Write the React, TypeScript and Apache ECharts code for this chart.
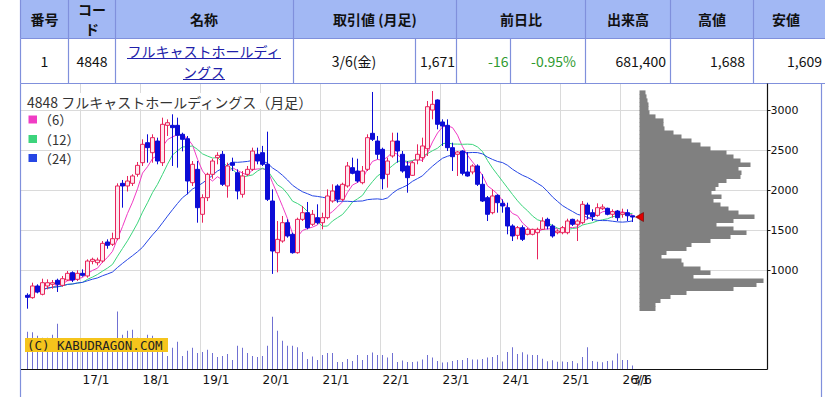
import React, { useEffect, useRef } from "react";
import * as echarts from "echarts";

// ---------- data ----------
const START_YEAR = 2016;
const START_MONTH = 2;
const LAST_LABEL = "3/6";

const openPrice = [
  692, 663, 809, 705, 809, 830, 880, 817, 884, 975, 892, 967, 934, 1117, 1100, 1121, 1359, 1330, 1400, 2092,
  2059, 2092, 2205, 2350, 2600, 2475, 2621, 2350, 2817, 2817, 2817, 2705, 2650, 2100, 2267, 1705, 1913, 2205, 2413, 2455,
  2059, 2350, 2225, 1955, 2205, 2267, 2455, 2475, 2330, 1871, 1225, 1371, 1600, 1455, 1225, 1642, 1725, 1580, 1663, 1600,
  1663, 1871, 2059, 1892, 2059, 2288, 2246, 2100, 2267, 2717, 2621, 2517, 2205, 2434, 2621, 2455, 2309, 2192, 2384, 2413,
  2525, 3008, 3134, 2859, 2817, 2538, 2455, 2496, 2234, 2234, 2309, 2080, 1913, 1725, 1942, 1842, 1788, 1559, 1442, 1538,
  1455, 1455, 1475, 1517, 1642, 1559, 1475, 1475, 1475, 1642, 1580, 1600, 1821, 1725, 1692, 1775, 1780, 1705, 1746, 1705,
  1725, 1687,
];
const highPrice = [
  717, 850, 830, 900, 892, 884, 900, 934, 996, 992, 1005, 1017, 1142, 1163, 1163, 1371, 1392, 1475, 2092, 2134,
  2184, 2205, 2359, 2642, 2705, 2705, 2663, 2913, 2892, 2955, 2913, 2725, 2684, 2371, 2371, 1955, 2225, 2400, 2480, 2496,
  2350, 2413, 2267, 2246, 2309, 2538, 2538, 2560, 2738, 2017, 1621, 1684, 1642, 1475, 1663, 1809, 1859, 1759, 1830, 1725,
  2017, 2080, 2080, 2100, 2359, 2413, 2400, 2309, 2705, 3234, 2684, 2538, 2413, 2725, 2725, 2496, 2371, 2371, 2580, 2663,
  3121, 3246, 3142, 2892, 2892, 2600, 2496, 2505, 2484, 2330, 2330, 2205, 1934, 2017, 1955, 1892, 1850, 1580, 1559, 1567,
  1538, 1525, 1538, 1667, 1663, 1580, 1517, 1559, 1650, 1650, 1642, 1871, 1850, 1767, 1842, 1830, 1788, 1767, 1759, 1775,
  1767, 1688,
];
const lowPrice = [
  525, 650, 717, 692, 767, 775, 734, 800, 871, 858, 871, 925, 913, 1080, 1067, 1100, 1275, 1309, 1380, 1788,
  1990, 2059, 2175, 2309, 2350, 2350, 2330, 2309, 2684, 2309, 2288, 2492, 1955, 2059, 1600, 1600, 1870, 2150, 2330, 2059,
  1913, 2246, 1892, 1913, 2184, 2246, 2330, 2309, 1871, 960, 980, 1350, 1413, 1213, 1213, 1621, 1517, 1559, 1580, 1517,
  1642, 1850, 1850, 1871, 2038, 2205, 2100, 2080, 2246, 2621, 2392, 2017, 2038, 2413, 2350, 2225, 1975, 2184, 2330, 2359,
  2434, 2892, 2767, 2559, 2496, 2246, 2184, 2192, 2175, 2205, 2059, 1859, 1621, 1705, 1725, 1725, 1455, 1371, 1392, 1371,
  1442, 1442, 1142, 1509, 1517, 1413, 1455, 1455, 1455, 1559, 1371, 1580, 1642, 1621, 1675, 1759, 1692, 1663, 1621, 1663,
  1621, 1609,
];
const closePrice = [
  667, 809, 734, 850, 850, 850, 830, 900, 967, 884, 967, 942, 1121, 1142, 1133, 1342, 1317, 1400, 2059, 2059,
  2121, 2184, 2317, 2580, 2538, 2663, 2371, 2830, 2850, 2788, 2692, 2642, 2121, 2330, 1788, 1913, 2205, 2371, 2442, 2080,
  2309, 2317, 1996, 2184, 2267, 2496, 2371, 2330, 1892, 1246, 1392, 1600, 1434, 1225, 1642, 1725, 1538, 1705, 1600, 1663,
  1934, 1996, 1892, 2080, 2309, 2217, 2121, 2246, 2663, 2642, 2455, 2150, 2371, 2621, 2496, 2246, 2163, 2350, 2455, 2559,
  3050, 3080, 2830, 2809, 2538, 2425, 2484, 2217, 2184, 2309, 2080, 1871, 1705, 1934, 1850, 1809, 1559, 1434, 1538, 1392,
  1517, 1517, 1517, 1621, 1559, 1434, 1496, 1538, 1621, 1580, 1621, 1830, 1705, 1675, 1788, 1796, 1705, 1738, 1663, 1725,
  1687, 1671,
];
// monthly volume, thousand shares
const volumeK = [
  7400, 7300, 6600, 6200, 6200, 6800, 9000, 5600, 5400, 5200, 6000, 5600, 5000, 5400, 5800, 5200, 5400, 6000, 11400, 6800,
  7600, 7800, 6200, 6000, 6800, 6600, 6000, 5800, 2600, 4200, 5400, 2600, 3600, 4200, 3200, 3400, 3800, 3200, 2400, 2600,
  3000, 1800, 4600, 4200, 3200, 2600, 2400, 2600, 4600, 10400, 7600, 5600, 4600, 4600, 4300, 3400, 2000, 2500, 1800, 2800,
  3200, 3200, 1400, 1400, 2000, 1600, 2800, 1800, 2800, 3300, 2800, 2800, 2300, 3200, 1400, 1700, 1400, 1400, 1500, 1900,
  2800, 2300, 1600, 1300, 1360, 1600, 1800, 1800, 2200, 1900, 1900, 2000, 2300, 2400, 2800, 1500, 3400, 4300, 3000, 3340,
  2900, 2800, 2800, 2040, 1560, 1720, 1440, 1500, 1400, 1600, 1140, 2400, 4300, 1600, 1460, 1360, 1600, 1700, 3100, 1800,
  1800, 681,
];
// price-by-volume profile (bucket lower bound, 50 yen buckets)
const profileLevel = [
  500, 550, 600, 650, 700, 750, 800, 850, 900, 950, 1000, 1050, 1100, 1150, 1200, 1250, 1300, 1350, 1400, 1450,
  1500, 1550, 1600, 1650, 1700, 1750, 1800, 1850, 1900, 1950, 2000, 2050, 2100, 2150, 2200, 2250, 2300, 2350, 2400, 2450,
  2500, 2550, 2600, 2650, 2700, 2750, 2800, 2850, 2900, 2950, 3000, 3050, 3100, 3150, 3200,
];
const profileVolume = [
  16, 16, 21, 31, 47, 94, 117, 124, 54, 71, 61, 44, 42, 22, 27, 47, 52, 71, 91, 107,
  94, 77, 94, 115, 99, 89, 81, 74, 82, 72, 76, 79, 87, 101, 102, 99, 111, 101, 94, 87,
  71, 61, 52, 42, 34, 25, 24, 24, 16, 10, 9, 9, 8, 7, 6,
];
const PROFILE_STEP = 50;
const priceTicks = [1000, 1500, 2000, 2500, 3000];
const maPeriods = [6, 12, 24];
const maColors = ["#f03cc4", "#3cd47c", "#2646e4"];

const tableHeaders = ["番号", "コード", "名称", "取引値 (月足)", "前日比", "出来高", "高値", "安値"];
const rowValues = ["1", "4848", "フルキャストホールディングス", "3/6(金)", "1,671", "-16", "-0.95%", "681,400", "1,688", "1,609"];
const chartTitle = "4848 フルキャストホールディングス（月足）";
const watermark = "(C) KABUDRAGON.COM";

// ---------- helpers ----------
const months: string[] = closePrice.map((_, i) => {
  const m0 = START_MONTH - 1 + i;
  const y = START_YEAR + Math.floor(m0 / 12);
  const m = (m0 % 12) + 1;
  return `${y}/${m < 10 ? "0" + m : m}`;
});
const lastIdx = months.length - 1;
const isJan = (i: number) => !!months[i] && months[i].endsWith("/01");

function sma(n: number) {
  return closePrice.map((_, i) => {
    const s = Math.max(0, i - n + 1);
    let sum = 0;
    for (let k = s; k <= i; k++) sum += closePrice[k];
    return Math.round((sum / (i - s + 1)) * 10) / 10;
  });
}

const BORDER = "#8090dc";
const JP = "Noto Sans CJK JP";

function tableGraphics(): any[] {
  const els: any[] = [];
  els.push({ type: "rect", z: 10, shape: { x: 20.5, y: 0, width: 805, height: 38 }, style: { fill: "#a2b8f4" } });
  const hx = [20.5, 68.5, 115.5, 293.5, 456.5, 585.5, 670.5, 753.5];
  hx.forEach((x) => els.push({ type: "line", z: 11, shape: { x1: x, y1: 0, x2: x, y2: 38.5 }, style: { stroke: BORDER, lineWidth: 1.2 } }));
  const rx = [20.5, 68.5, 115.5, 293.5, 415.5, 456.5, 510.5, 585.5, 670.5, 753.5];
  rx.forEach((x) => els.push({ type: "line", z: 11, shape: { x1: x, y1: 38.5, x2: x, y2: 83.5 }, style: { stroke: BORDER, lineWidth: 1.2 } }));
  [38.5, 83.5].forEach((y) => els.push({ type: "line", z: 11, shape: { x1: 20.5, y1: y, x2: 825, y2: y }, style: { stroke: BORDER, lineWidth: 1.2 } }));
  els.push({ type: "line", z: 11, shape: { x1: 20.5, y1: 83.5, x2: 20.5, y2: 397 }, style: { stroke: BORDER, lineWidth: 1.2 } });
  els.push({ type: "line", z: 11, shape: { x1: 821.5, y1: 83.5, x2: 821.5, y2: 397 }, style: { stroke: BORDER, lineWidth: 1.2 } });

  const hcx = [44.5, 92, 204, 375, 521, 628, 712, 786];
  tableHeaders.forEach((t, i) => {
    const st: any = { text: t, x: hcx[i], y: 18.5, fill: "#111", fontFamily: JP, fontWeight: "bold", fontSize: 14, align: "center", verticalAlign: "middle" };
    if (i === 1) { st.width = 30; st.overflow = "break"; st.lineHeight = 20; st.y = 18.5; }
    els.push({ type: "text", z: 12, style: st });
  });

  const cell = (t: string, x: number, align: string, fill = "#111") => ({
    type: "text", z: 12,
    style: { text: t, x, y: 61, fill, fontFamily: JP, fontSize: 14, align, verticalAlign: "middle" },
  });
  els.push(cell(rowValues[0], 44.5, "center"));
  els.push(cell(rowValues[1], 92, "center"));
  els.push({
    type: "text", z: 12,
    style: { text: rowValues[2], x: 204, y: 61, width: 160, overflow: "break", lineHeight: 21, fill: "#2020aa", fontFamily: JP, fontSize: 14, align: "center", verticalAlign: "middle" },
  });
  els.push({ type: "line", z: 12, shape: { x1: 127, y1: 58.5, x2: 281, y2: 58.5 }, style: { stroke: "#2020aa", lineWidth: 1 } });
  els.push({ type: "line", z: 12, shape: { x1: 183, y1: 79.5, x2: 225, y2: 79.5 }, style: { stroke: "#2020aa", lineWidth: 1 } });
  els.push(cell(rowValues[3], 354, "center"));
  els.push(cell(rowValues[4], 455, "right"));
  els.push(cell(rowValues[5], 508.5, "right", "#2f9a2f"));
  els.push(cell(rowValues[6], 576, "right", "#2f9a2f"));
  els.push(cell(rowValues[7], 666, "right"));
  els.push(cell(rowValues[8], 745, "right"));
  els.push(cell(rowValues[9], 822, "right"));
  return els;
}

function chartGraphics(): any[] {
  const els: any[] = [];
  // title with white backing
  els.push({ type: "rect", z: 10, shape: { x: 22, y: 93, width: 288, height: 16 }, style: { fill: "#fff" } });
  els.push({ type: "text", z: 12, style: { text: chartTitle, x: 27, y: 101.5, fill: "#333", fontFamily: JP, fontSize: 14, verticalAlign: "middle" } });
  // legend
  const ly = [119.5, 139, 158];
  maPeriods.forEach((p, i) => {
    els.push({ type: "rect", z: 12, shape: { x: 28.5, y: ly[i] - 4, width: 8.5, height: 8 }, style: { fill: maColors[i] } });
    els.push({ type: "text", z: 12, style: { text: `（${p}）`, x: 39, y: ly[i], fill: "#333", fontFamily: JP, fontSize: 13, verticalAlign: "middle" } });
  });
  // watermark
  els.push({ type: "rect", z: 12, shape: { x: 25, y: 338, width: 143, height: 14 }, style: { fill: "#f5c41c" } });
  els.push({ type: "text", z: 13, style: { text: watermark, x: 27, y: 345.5, fill: "#222", fontFamily: "DejaVu Sans Mono", fontSize: 12.5, verticalAlign: "middle" } });
  // axis frame
  els.push({ type: "line", z: 12, shape: { x1: 767.5, y1: 83.5, x2: 767.5, y2: 369.5 }, style: { stroke: "#111", lineWidth: 1.2 } });
  els.push({ type: "line", z: 12, shape: { x1: 21, y1: 369.5, x2: 767.5, y2: 369.5 }, style: { stroke: "#111", lineWidth: 1.2 } });
  return els;
}

export default function App() {
  const ref = useRef<HTMLDivElement>(null);
  useEffect(() => {
    if (!ref.current) return;
    const chart = echarts.init(ref.current, undefined, { renderer: "svg" });
    const candleData = closePrice.map((c, i) => [openPrice[i], c, lowPrice[i], highPrice[i]]);
    const profileData = profileLevel.map((lv, i) => [lv, lv + PROFILE_STEP, profileVolume[i]]);
    const gridLine = { color: "#dadada", width: 1 };
    const xLabelStyle = { align: "left", margin: 5, fontSize: 12, color: "#111", fontFamily: "DejaVu Sans" };

    const option: any = {
      animation: false,
      backgroundColor: "#ffffff",
      textStyle: { fontFamily: "DejaVu Sans" },
      grid: [
        { left: 21, top: 86.7, width: 746.5, height: 224 },
        { left: 25, top: 84, width: 610, height: 285 },
        { left: 25, top: 86.7, width: 610, height: 224 },
        { left: 639.5, top: 86.7, width: 127.5, height: 224 },
      ],
      xAxis: [
        { gridIndex: 0, type: "value", min: 0, max: 1, show: false },
        {
          gridIndex: 1, type: "category", data: months, boundaryGap: true, position: "bottom",
          axisLine: { show: false }, axisTick: { show: false },
          axisLabel: {
            ...xLabelStyle,
            interval: (i: number) => isJan(i),
            formatter: (v: string) => `${v.slice(2, 4)}/1`,
          },
          splitLine: { show: true, showMaxLine: false, interval: (i: number) => isJan(i), lineStyle: gridLine },
        },
        { gridIndex: 2, type: "category", data: months, boundaryGap: true, show: false },
        { gridIndex: 3, type: "value", min: 0, max: 127.5, show: false },
        {
          gridIndex: 1, type: "category", data: months, boundaryGap: true, position: "bottom", offset: 0,
          axisLine: { show: false }, axisTick: { show: false }, splitLine: { show: false },
          axisLabel: {
            ...xLabelStyle,
            interval: (i: number) => i === lastIdx,
            showMaxLabel: true,
            formatter: () => LAST_LABEL,
          },
        },
      ],
      yAxis: [
        {
          gridIndex: 0, type: "value", position: "right", min: 500, max: 3300, interval: 500,
          axisLine: { show: false, onZero: false },
          axisTick: { show: true, length: 3, customValues: priceTicks, lineStyle: { color: "#111" } },
          axisLabel: {
            customValues: priceTicks,
            margin: 3, fontSize: 11, color: "#111", fontFamily: "DejaVu Sans",
            formatter: (v: number) => (priceTicks.indexOf(v) >= 0 ? String(v) : ""),
          },
          splitLine: { show: true, lineStyle: gridLine },
        },
        { gridIndex: 1, type: "value", min: 0, max: 56600, show: false },
        { gridIndex: 2, type: "value", min: 500, max: 3300, show: false },
        { gridIndex: 3, type: "value", min: 500, max: 3300, show: false },
      ],
      series: [
        {
          type: "bar", name: "出来高", xAxisIndex: 1, yAxisIndex: 1, data: volumeK, barWidth: 1,
          itemStyle: { color: "#7070d2" }, z: 2,
        },
        ...maPeriods.map((p, k) => ({
          type: "line", name: `MA${p}`, xAxisIndex: 2, yAxisIndex: 2, data: sma(p), showSymbol: false,
          lineStyle: { color: maColors[k], width: 1 }, z: 2,
        })),
        {
          type: "candlestick", name: "月足", xAxisIndex: 2, yAxisIndex: 2, data: candleData, barWidth: 3.6, z: 3,
          itemStyle: { color: "#fde9ef", borderColor: "#e8245c", color0: "#0c0cd6", borderColor0: "#0c0cd6", borderWidth: 1 },
        },
        {
          type: "custom", name: "価格帯別出来高", xAxisIndex: 3, yAxisIndex: 3, z: 4,
          encode: { x: 2, y: [0, 1] }, data: profileData,
          renderItem: (_p: any, api: any) => {
            const a = api.coord([0, api.value(1)]);
            const b = api.coord([api.value(2), api.value(0)]);
            return {
              type: "rect",
              shape: { x: a[0], y: a[1] - 0.3, width: b[0] - a[0], height: b[1] - a[1] + 0.6 },
              style: { fill: "#808080" },
            };
          },
        },
        {
          type: "scatter", name: "現在値", xAxisIndex: 3, yAxisIndex: 3, z: 6,
          data: [[0, closePrice[lastIdx]]], symbol: "triangle", symbolRotate: 90, symbolSize: [9, 8],
          itemStyle: { color: "#e00000", borderColor: "#700000", borderWidth: 0.6, opacity: 1 },
        },
      ],
      graphic: [...tableGraphics(), ...chartGraphics()],
    };
    chart.setOption(option);
    return () => chart.dispose();
  }, []);
  return <div ref={ref} style={{ position: "absolute", left: 0, top: 0, width: 825, height: 397 }} />;
}
